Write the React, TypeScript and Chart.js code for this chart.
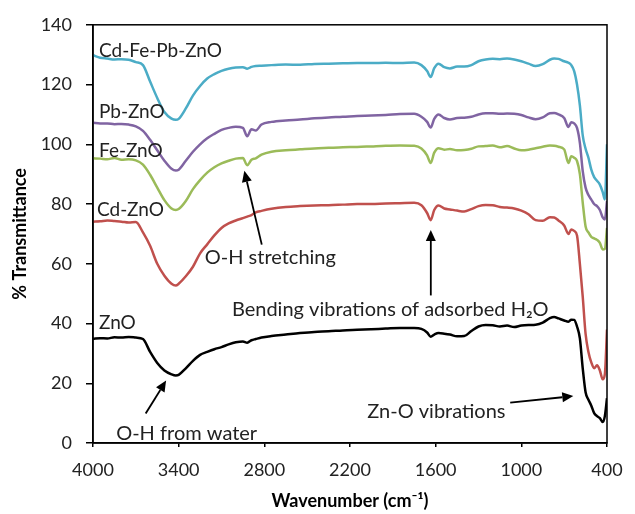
import { useEffect, useRef } from "react";
import { Chart, registerables } from "chart.js";

Chart.register(...registerables);

// Wavenumber grid (cm^-1), shared by all spectra
const wavenumbers = [
  4000, 3950, 3900, 3850, 3800, 3750, 3700, 3650, 3600, 3550, 3500, 3450, 3420, 3400,
  3350, 3300, 3250, 3200, 3150, 3100, 3050, 3000, 2950, 2920, 2890, 2860, 2820, 2750,
  2650, 2550, 2450, 2350, 2250, 2150, 2050, 1950, 1850, 1750, 1700, 1660, 1635, 1610,
  1580, 1540, 1500, 1450, 1400, 1350, 1300, 1250, 1200, 1150, 1100, 1050, 1000, 950,
  900, 850, 800, 770, 740, 700, 670, 650, 630, 610, 590, 570, 550, 530, 510, 490, 470,
  450, 430, 415, 400,
];

const cdFePbZnO = [
  129.8, 129.0, 128.7, 128.4, 128.5, 128.3, 127.5, 126.5, 121.0, 115.5, 110.8, 108.6, 108.2, 108.5,
  112.0, 116.3, 119.5, 122.0, 123.5, 124.6, 125.3, 125.7, 125.8, 125.3, 125.9, 126.2, 126.3, 126.5,
  126.7, 126.6, 126.9, 127.0, 127.1, 127.2, 127.2, 127.3, 127.2, 127.4, 126.5, 124.5, 122.5, 125.5,
  127.0, 125.8, 125.4, 126.0, 126.0, 126.5, 127.8, 128.4, 128.6, 128.5, 128.7, 128.4, 127.8, 127.0,
  126.2, 126.8, 128.3, 128.7, 128.6, 127.8, 127.3, 126.5, 124.5, 120.0, 113.0, 103.0, 98.5, 95.5,
  91.5, 89.0, 87.8, 86.5, 84.0, 81.5, 100.0,
];

const pbZnO = [
  107.2, 107.0, 107.0, 106.7, 106.8, 106.6, 106.0, 104.5, 101.5, 98.0, 94.5, 91.8, 91.2, 91.5,
  94.5, 97.5, 100.0, 102.0, 103.5, 104.8, 105.5, 105.9, 105.5, 102.7, 105.0, 104.6, 106.6, 107.5,
  108.0, 108.3, 108.7, 109.0, 109.2, 109.5, 109.6, 109.8, 110.1, 110.2, 109.2, 107.5, 105.6, 108.5,
  110.0, 108.8, 108.3, 108.8, 108.9, 109.2, 110.0, 110.4, 110.4, 110.2, 110.3, 110.2, 109.8, 109.0,
  108.4, 109.0, 110.4, 110.5, 110.0, 108.8, 105.8, 107.4, 107.0, 105.5, 100.5, 91.0, 85.5, 83.0,
  81.5, 80.0, 79.3, 78.0, 75.5, 74.8, 81.0,
];

const feZnO = [
  95.3, 95.2, 95.0, 95.4, 94.8, 95.0, 94.6, 93.2, 89.8, 85.5, 81.3, 78.5, 78.0, 78.3,
  81.0, 85.0, 88.0, 90.5, 92.3, 93.6, 94.5, 95.2, 95.4, 93.0, 94.8, 95.3, 96.5, 97.5,
  98.0, 98.3, 98.6, 98.8, 99.0, 99.1, 99.3, 99.5, 99.6, 99.5, 98.6, 96.3, 93.7, 97.2,
  98.7, 98.2, 98.4, 98.0, 98.1, 98.5, 99.3, 99.4, 99.6, 99.0, 99.4, 98.6, 98.0, 98.2,
  98.7, 99.2, 99.6, 99.5, 99.2, 98.3, 93.7, 96.0, 95.5, 94.4, 90.0, 80.5, 72.5, 70.5,
  69.0, 68.5, 68.0, 67.0, 64.8, 65.0, 72.0,
];

const cdZnO = [
  74.1, 74.2, 74.5, 74.3, 74.1, 73.8, 74.0, 70.5, 66.0, 60.0, 56.0, 53.3, 52.7, 53.3,
  55.8, 59.0, 63.5, 66.5, 69.5, 72.0, 73.5, 74.5, 75.3, 75.8, 76.3, 77.2, 77.7, 78.4,
  79.0, 79.3, 79.5, 79.6, 79.8, 80.0, 80.0, 80.2, 80.3, 80.4, 79.6, 77.0, 74.6, 78.0,
  79.5, 78.5, 78.2, 77.8, 77.5, 78.3, 79.3, 79.7, 79.6, 79.0, 78.8, 78.5, 77.8, 76.6,
  74.6, 74.4, 75.6, 75.5, 74.5, 72.8, 70.0, 71.5, 71.0, 69.5, 60.0, 49.0, 36.5, 30.5,
  27.0, 25.0, 26.0, 24.3, 21.3, 23.0, 38.0,
];

const znO = [
  34.9, 35.1, 35.0, 35.4, 35.3, 35.5, 35.3, 34.8, 30.5, 26.8, 24.3, 23.0, 22.6, 22.8,
  25.0, 27.5, 29.5, 30.5, 31.4, 32.1, 33.0, 33.7, 34.0, 33.6, 34.4, 34.8, 35.3, 35.8,
  36.3, 36.8, 37.2, 37.4, 37.7, 37.9, 38.1, 38.3, 38.5, 38.5, 38.2, 37.0, 35.6, 36.3,
  36.8, 36.6, 36.3, 35.7, 35.8, 37.5, 39.0, 39.5, 39.4, 39.0, 39.3, 38.8, 39.3, 39.5,
  39.6, 40.3, 41.8, 42.2, 41.7, 41.0, 40.6, 41.3, 41.2, 39.0, 35.0, 25.0, 17.0, 14.5,
  12.5, 10.0, 9.0, 8.3, 7.0, 9.0, 15.0,
];

const seriesNames = ["Cd-Fe-Pb-ZnO", "Pb-ZnO", "Fe-ZnO", "Cd-ZnO", "ZnO"];
const seriesValues = [cdFePbZnO, pbZnO, feZnO, cdZnO, znO];
const seriesColors = ["#4BACC6", "#8064A2", "#9BBB59", "#C0504D", "#000000"];

const xMin = 400;
const xMax = 4000;
const xStep = 600;
const yMin = 0;
const yMax = 140;
const yStep = 20;

const xTitle = "Wavenumber (cm\u207B\u00B9)";
const yTitle = "% Transmittance";

// Series name labels placed in data coordinates (left aligned)
const seriesLabelX = [3958, 3958, 3958, 3972, 3958];
const seriesLabelY = [131.4, 110.9, 97.7, 78.2, 40.2];

// Annotation texts (centered) and arrows, in data coordinates
const noteTexts = ["O-H stretching", "Bending vibrations of adsorbed H\u2082O", "O-H from water", "Zn-O vibrations"];
const noteX = [2758, 1918, 3344, 1595];
const noteY = [62.1, 44.8, 3.1, 10.4];
const arrowFromX = [2818, 1634, 3631, 1078];
const arrowFromY = [66.4, 49.4, 9.85, 13.5];
const arrowToX = [2940, 1634, 3488, 636];
const arrowToY = [91.1, 71.3, 20.9, 15.7];

const FONT = "Lato, 'Open Sans', sans-serif";
const TEXT_COLOR = "#222222";

const overlayPlugin = {
  id: "overlay",
  afterDatasetsDraw(chart: any) {
    const { ctx, chartArea, scales } = chart;
    const xs = scales.x;
    const ys = scales.y;
    ctx.save();
    // frame
    ctx.strokeStyle = "#000";
    ctx.lineWidth = 1.5;
    ctx.strokeRect(chartArea.left, chartArea.top, chartArea.right - chartArea.left, chartArea.bottom - chartArea.top);

    ctx.fillStyle = TEXT_COLOR;
    ctx.font = `19px ${FONT}`;
    ctx.textBaseline = "middle";
    ctx.textAlign = "left";
    seriesNames.forEach((name, i) => {
      ctx.fillText(name, xs.getPixelForValue(seriesLabelX[i]), ys.getPixelForValue(seriesLabelY[i]));
    });

    ctx.font = `20px ${FONT}`;
    ctx.textAlign = "center";
    noteTexts.forEach((t, i) => {
      ctx.fillText(t, xs.getPixelForValue(noteX[i]), ys.getPixelForValue(noteY[i]));
    });

    ctx.strokeStyle = "#000";
    ctx.fillStyle = "#000";
    ctx.lineWidth = 1.8;
    noteTexts.forEach((_, i) => {
      const x0 = xs.getPixelForValue(arrowFromX[i]);
      const y0 = ys.getPixelForValue(arrowFromY[i]);
      const x1 = xs.getPixelForValue(arrowToX[i]);
      const y1 = ys.getPixelForValue(arrowToY[i]);
      const ang = Math.atan2(y1 - y0, x1 - x0);
      const headLen = 11;
      const headW = 5;
      const bx = x1 - headLen * Math.cos(ang);
      const by = y1 - headLen * Math.sin(ang);
      ctx.beginPath();
      ctx.moveTo(x0, y0);
      ctx.lineTo(bx, by);
      ctx.stroke();
      ctx.beginPath();
      ctx.moveTo(x1, y1);
      ctx.lineTo(bx + headW * Math.sin(ang), by - headW * Math.cos(ang));
      ctx.lineTo(bx - headW * Math.sin(ang), by + headW * Math.cos(ang));
      ctx.closePath();
      ctx.fill();
    });
    ctx.restore();
  },
};

export default function App() {
  const canvasRef = useRef<HTMLCanvasElement | null>(null);

  useEffect(() => {
    if (!canvasRef.current) return;
    const datasets = seriesNames.map((name, i) => ({
      label: name,
      data: wavenumbers.map((w, j) => ({ x: w, y: seriesValues[i][j] })),
      borderColor: seriesColors[i],
      backgroundColor: seriesColors[i],
      borderWidth: 2.5,
      pointRadius: 0,
      fill: false,
      cubicInterpolationMode: "monotone" as const,
    }));

    const chart = new Chart(canvasRef.current, {
      type: "line",
      data: { datasets },
      plugins: [overlayPlugin],
      options: {
        animation: false,
        responsive: false,
        maintainAspectRatio: false,
        layout: { padding: { left: 0, top: 19, right: 28, bottom: 0 } },
        plugins: {
          legend: { display: false },
          tooltip: { enabled: false },
        },
        scales: {
          x: {
            type: "linear",
            reverse: true,
            min: xMin,
            max: xMax,
            afterFit: (s: any) => {
              s.height = 71;
            },
            ticks: {
              stepSize: xStep,
              padding: 12,
              color: TEXT_COLOR,
              font: { family: FONT, size: 18 },
              maxRotation: 0,
              callback: (v: any) => String(v),
            },
            grid: {
              drawOnChartArea: false,
              drawTicks: true,
              tickLength: 4,
              color: "#000",
              lineWidth: 1.5,
            },
            border: { display: true, color: "#000", width: 1.5 },
            title: {
              display: true,
              text: xTitle,
              color: "#000",
              font: { family: FONT, size: 18, weight: "bold" },
              padding: { top: 0, bottom: 2 },
            },
          },
          y: {
            type: "linear",
            min: yMin,
            max: yMax,
            afterFit: (s: any) => {
              s.width = 93;
            },
            ticks: {
              stepSize: yStep,
              padding: 14,
              color: TEXT_COLOR,
              font: { family: FONT, size: 18 },
            },
            grid: {
              drawOnChartArea: false,
              drawTicks: true,
              tickLength: 7,
              color: "#000",
              lineWidth: 1.5,
            },
            border: { display: true, color: "#000", width: 1.5 },
            title: {
              display: true,
              text: yTitle,
              color: "#000",
              font: { family: FONT, size: 18, weight: "bold" },
              padding: { top: 9, bottom: 0 },
            },
          },
        },
      },
    });
    return () => chart.destroy();
  }, []);

  return (
    <div style={{ position: "fixed", left: 0, top: 0, width: 635, height: 514, background: "#fff" }}>
      <canvas ref={canvasRef} width={635} height={514} style={{ width: 635, height: 514 }} />
    </div>
  );
}
